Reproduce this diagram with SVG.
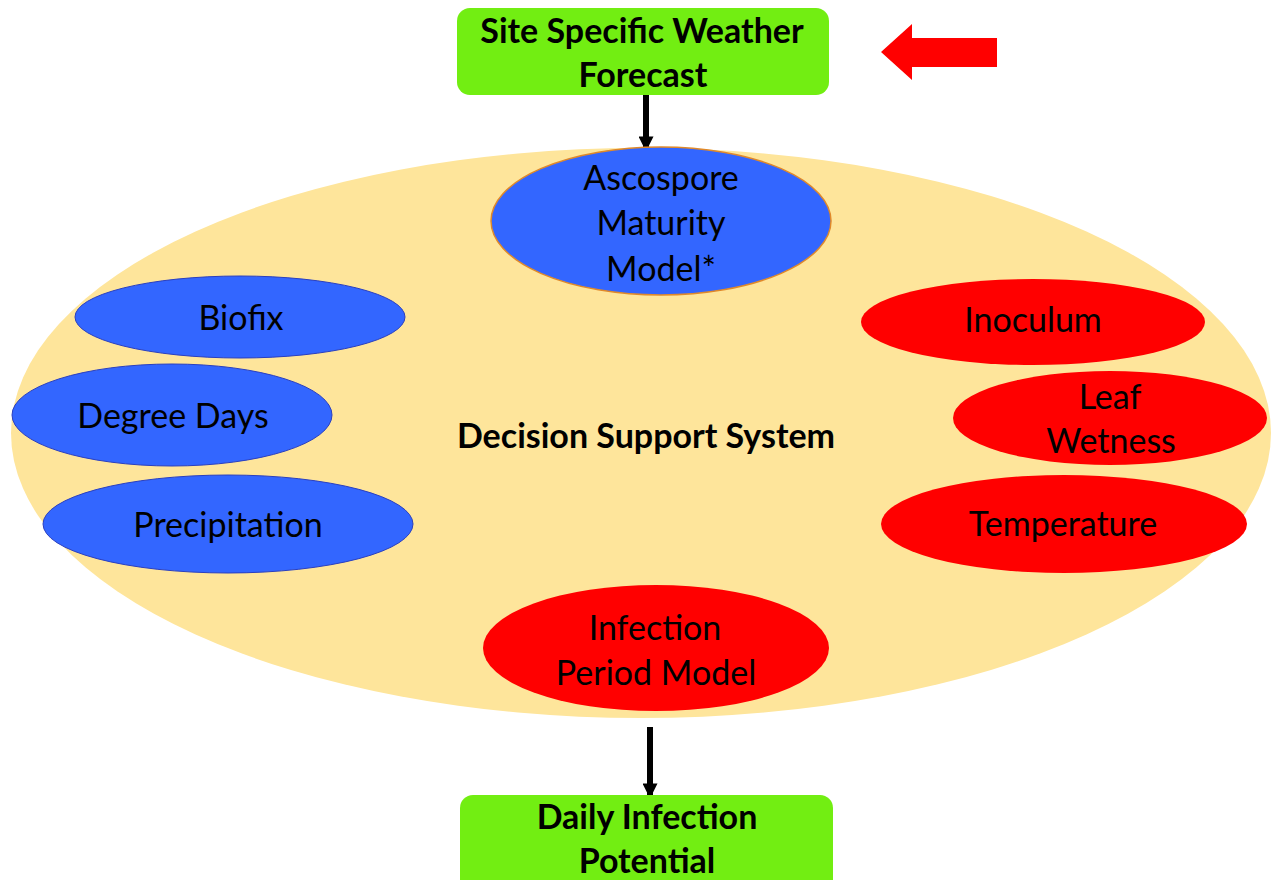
<svg xmlns="http://www.w3.org/2000/svg" width="1271" height="880" viewBox="0 0 1271 880">
<defs>
<style>
.t{font-family:Lato,"Open Sans","Liberation Sans",sans-serif;font-size:34px;fill:#000;text-anchor:middle}
.b{font-weight:bold}
.blue{fill:#3366FF;stroke:#2a3fbf;stroke-width:1}
.red{fill:#FF0000;stroke:none}
.box{fill:#72EE12;stroke:none}
.conn{stroke:#000;stroke-width:6;fill:none}
</style>
<marker id="ah" viewBox="0 0 10 10" refX="9" refY="5" markerWidth="3.2" markerHeight="2.5" orient="auto" markerUnits="strokeWidth">
<path d="M0,0 L10,5 L0,10 z" fill="#000"/>
</marker>
</defs>
<rect width="1271" height="880" fill="#fff"/>
<g id="dss">
<ellipse cx="641" cy="433" rx="630" ry="285" fill="#FEE59B"/>
<text class="t b" x="646" y="448" font-size="32">Decision Support System</text>
</g>
<g id="connectors">
<line class="conn" x1="646" y1="95" x2="646" y2="150" marker-end="url(#ah)"/>
<line class="conn" x1="650" y1="727" x2="650" y2="797" marker-end="url(#ah)"/>
<polygon points="881,52 912,24 912,38 997,38 997,67 912,67 912,80" fill="#FF0000"/>
</g>
<g id="forecast">
<rect class="box" x="457" y="8" width="372" height="87" rx="13"/>
<text class="t b" x="642" y="43">Site Specific Weather</text>
<text class="t b" x="643" y="87">Forecast</text>
</g>
<g id="daily">
<rect class="box" x="460" y="795" width="373" height="100" rx="13"/>
<text class="t b" x="647" y="829">Daily Infection</text>
<text class="t b" x="647" y="873">Potential</text>
</g>
<g id="ascospore">
<ellipse cx="661" cy="221" rx="170" ry="74" fill="#3366FF" stroke="#E0892A" stroke-width="1.5"/>
<text class="t" x="661" y="190">Ascospore</text>
<text class="t" x="661" y="235">Maturity</text>
<text class="t" x="661" y="281">Model*</text>
</g>
<g id="biofix">
<ellipse class="blue" cx="240" cy="317" rx="165" ry="41"/>
<text class="t" x="241" y="330">Biofix</text>
</g>
<g id="degree">
<ellipse class="blue" cx="172" cy="415" rx="160" ry="51"/>
<text class="t" x="173" y="428">Degree Days</text>
</g>
<g id="precip">
<ellipse class="blue" cx="228" cy="524" rx="185" ry="49"/>
<text class="t" x="228" y="537">Precipitation</text>
</g>
<g id="inoculum">
<ellipse class="red" cx="1033" cy="322" rx="172" ry="43"/>
<text class="t" x="1033" y="332">Inoculum</text>
</g>
<g id="leaf">
<ellipse class="red" cx="1110" cy="418" rx="157" ry="47"/>
<text class="t" x="1110" y="409">Leaf</text>
<text class="t" x="1111" y="453">Wetness</text>
</g>
<g id="temp">
<ellipse class="red" cx="1064" cy="524" rx="183" ry="49"/>
<text class="t" x="1063" y="536">Temperature</text>
</g>
<g id="infection">
<ellipse class="red" cx="656" cy="648" rx="173" ry="63"/>
<text class="t" x="655" y="640">Infection</text>
<text class="t" x="656" y="685">Period Model</text>
</g>
</svg>
